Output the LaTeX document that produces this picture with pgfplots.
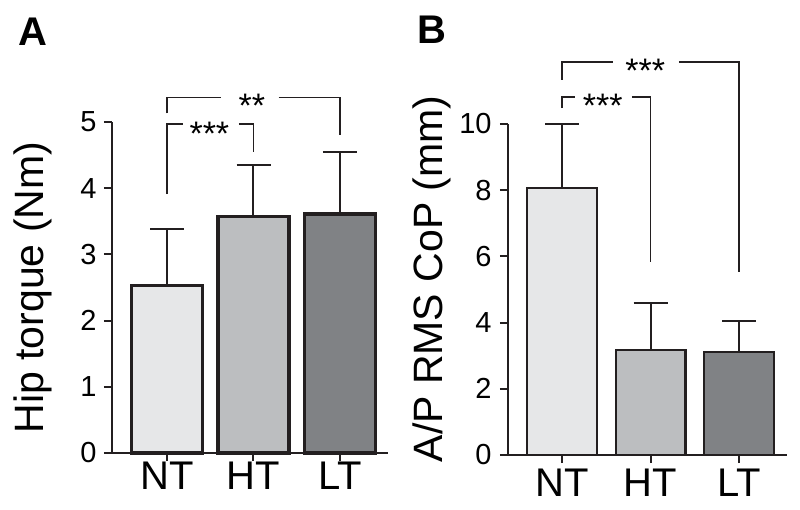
\documentclass[border=0pt]{standalone}
\usepackage{fontspec}
\setmainfont{Liberation Sans}
\usepackage{pgfplots}
\pgfplotsset{compat=1.18}
\definecolor{barNT}{HTML}{E6E7E8}
\definecolor{barHT}{HTML}{BCBEC0}
\definecolor{barLT}{HTML}{808285}
\definecolor{ink}{HTML}{231F20}
\tikzset{stars/.style={font=\fontsize{17}{18}\selectfont, anchor=base, inner sep=0pt}}
\pgfplotsset{
 panel/.style={
  scale only axis, axis lines=left, axis line style={-, line width=1pt, ink},
  ymin=0,
  xtick={0,1,2}, xticklabels={NT,HT,LT},
  tick align=outside, major tick length=4pt,
  tick style={line width=1pt, ink},
  xticklabel style={font=\fontsize{20}{24}\selectfont, inner sep=0pt},
  yticklabel style={font=\fontsize{14.5}{16}\selectfont, inner sep=0pt, xshift=-3.5pt},
  /pgf/number format/assume math mode=true,
  ylabel style={font=\fontsize{20.5}{24}\selectfont, anchor=center},
  clip=false,
  anchor=south west,
 },
 bracket/.style={ink, line width=0.9pt, mark=none, sharp plot, forget plot},
 ebar/.style={error bars/y dir=plus, error bars/y explicit,
  error bars/error bar style={line width=1pt, ink},
  error bars/error mark options={rotate=90, line width=1pt, ink, mark size=8.5pt}},
}
\begin{document}
\begin{tikzpicture}
\path[use as bounding box] (-56pt,-28.5pt) rectangle (344pt,226.5pt);
% Panel A
\begin{axis}[panel, at={(0pt,0pt)}, width=138pt, height=165.5pt,
  xmin=-0.636, xmax=2.555, ymax=5, ytick={0,1,2,3,4,5},
  xticklabel style={yshift=-0.5pt},
  ylabel={Hip torque (Nm)},
  ylabel style={at={(axis description cs:-0.286,0.5)}}]
\addplot[ybar, bar width=0.82, bar shift=0pt, fill=barNT, draw=ink, line width=1.6pt, ebar]
  coordinates {(0,2.53) +- (0,0.85)};
\addplot[ybar, bar width=0.82, bar shift=0pt, fill=barHT, draw=ink, line width=1.6pt, ebar]
  coordinates {(1,3.57) +- (0,0.78)};
\addplot[ybar, bar width=0.82, bar shift=0pt, fill=barLT, draw=ink, line width=1.6pt, ebar]
  coordinates {(2,3.61) +- (0,0.94)};
% brackets
\addplot[bracket] coordinates {(0,3.91) (0,4.97) (0.185,4.97)};
\addplot[bracket] coordinates {(0.83,4.97) (1,4.97) (1,4.55)};
\addplot[bracket] coordinates {(0,5.13) (0,5.37) (0.62,5.37)};
\addplot[bracket] coordinates {(1.29,5.37) (2,5.37) (2,4.8)};
\node[stars, yshift=-10.9pt] at (axis cs:0.49,4.97) {***};
\node[stars, yshift=-9.9pt] at (axis cs:0.98,5.37) {**};
\end{axis}
% Panel B
\begin{axis}[panel, at={(198pt,-1pt)}, width=139.5pt, height=165.5pt,
  xmin=-0.61, xmax=2.54, ymax=10, ytick={0,2,4,6,8,10},
  xticklabel style={yshift=-3pt},
  yticklabel style={xshift=-0.5pt},
  ylabel={A/P RMS CoP (mm)},
  ylabel style={at={(axis description cs:-0.272,0.532)}}]
\addplot[ybar, bar width=0.79, bar shift=0pt, fill=barNT, draw=ink, line width=1.1pt, ebar]
  coordinates {(0,8.07) +- (0,1.93)};
\addplot[ybar, bar width=0.79, bar shift=0pt, fill=barHT, draw=ink, line width=1.1pt, ebar]
  coordinates {(1,3.17) +- (0,1.42)};
\addplot[ybar, bar width=0.79, bar shift=0pt, fill=barLT, draw=ink, line width=1.1pt, ebar]
  coordinates {(2,3.11) +- (0,0.94)};
\addplot[bracket] coordinates {(0,10.48) (0,10.82) (0.15,10.82)};
\addplot[bracket] coordinates {(0.79,10.82) (1,10.82) (1,5.83)};
\addplot[bracket] coordinates {(0,11.33) (0,11.87) (0.58,11.87)};
\addplot[bracket] coordinates {(1.32,11.87) (2,11.87) (2,5.53)};
\node[stars, yshift=-10.3pt] at (axis cs:0.46,10.82) {***};
\node[stars, yshift=-10.4pt] at (axis cs:0.94,11.87) {***};
\end{axis}
\node[anchor=base west, inner sep=0pt, font=\fontsize{20}{22}\selectfont\bfseries] at (-47pt,204pt) {A};
\node[anchor=base west, inner sep=0pt, font=\fontsize{20}{22}\selectfont\bfseries] at (152.5pt,205pt) {B};
\end{tikzpicture}
\end{document}
